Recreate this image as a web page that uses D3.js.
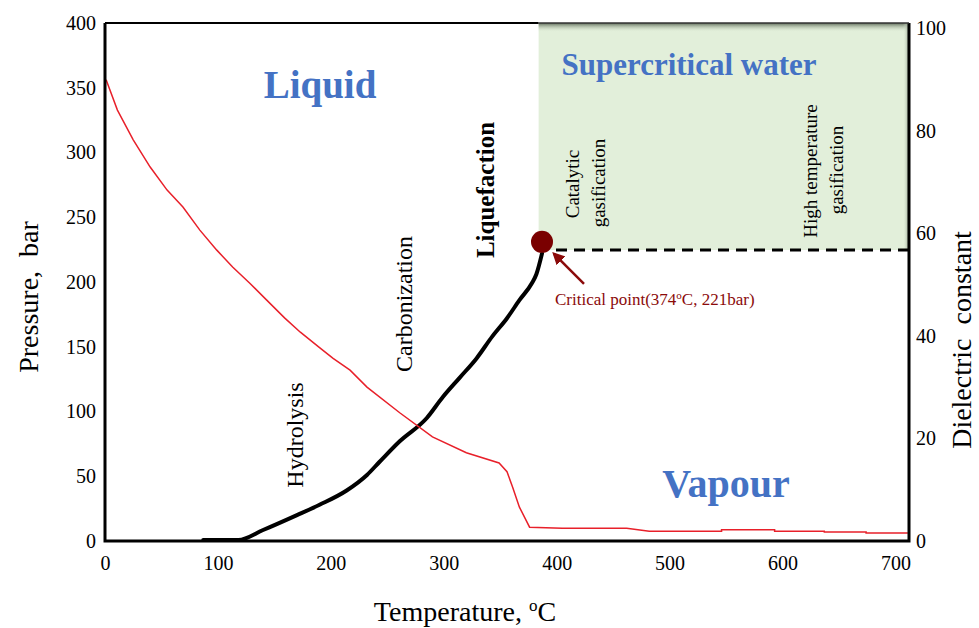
<!DOCTYPE html>
<html>
<head>
<meta charset="utf-8">
<script src="https://cdn.jsdelivr.net/npm/d3@7"></script>
<style>
  body { margin: 0; background: #fff; }
  text { font-family: "Liberation Serif", "Times New Roman", serif; }
</style>
</head>
<body>
<svg id="chart" width="979" height="628"></svg>
<script>
// data
var xTicks = [0, 100, 200, 300, 400, 500, 600, 700]
var yTicks = [0, 50, 100, 150, 200, 250, 300, 350, 400]
var y2Ticks = [0, 20, 40, 60, 80, 100]

// vapour pressure curve (temperature degC, pressure bar)
var vapT = [87, 118, 140, 170, 190, 214, 232, 243, 261, 285, 299, 314, 329, 343, 356, 367, 378, 382, 387]
var vapP = [0.8, 0.8, 8.5, 20, 28, 39, 51, 61, 77, 95, 111, 126, 141, 158, 172, 186, 199, 206, 222]

// dielectric constant of water (temperature degC, dielectric constant)
var dielT = [1, 11, 25, 40, 55, 69, 84, 99, 113, 128, 143, 159, 173, 190, 202, 217, 232, 261, 290, 320, 349, 356, 361, 367, 376, 405, 462, 482, 546, 546, 593, 593, 637, 637, 674, 674, 711]
var dielE = [89.9, 84, 78.2, 72.9, 68.4, 65.1, 60.6, 56.7, 53.4, 50.3, 47, 43.5, 40.7, 37.7, 35.6, 33.3, 30, 25, 20.3, 17.2, 15.2, 13.5, 10.5, 6.6, 2.7, 2.5, 2.5, 1.9, 1.9, 2.2, 2.2, 1.9, 1.9, 1.75, 1.75, 1.56, 1.56]

var criticalPoint = [387, 231]
var superT = 384, superP = 224.7

var svg = d3.select("#chart")
var plotLeft = 105, plotRight = 909, plotTop = 23, plotBottom = 541

var x = d3.scaleLinear().domain([0, 712]).range([plotLeft, plotRight])
var y = d3.scaleLinear().domain([0, 400]).range([plotBottom, plotTop])
var y2 = d3.scaleLinear().domain([0, 100]).range([plotBottom, 28])

var blue = "#4472C4", darkRed = "#8B0A0A"

// supercritical region
var defs = svg.append("defs")
var shade = defs.append("linearGradient").attr("id", "shadeTop")
    .attr("x1", "0%").attr("y1", "0%").attr("x2", "0%").attr("y2", "100%")
shade.append("stop").attr("offset", "0%").attr("stop-color", "#5d6a57").attr("stop-opacity", 1)
shade.append("stop").attr("offset", "100%").attr("stop-color", "#e2efda").attr("stop-opacity", 0)
var shadeR = defs.append("linearGradient").attr("id", "shadeRight")
    .attr("x1", "100%").attr("y1", "0%").attr("x2", "0%").attr("y2", "0%")
shadeR.append("stop").attr("offset", "0%").attr("stop-color", "#8a9684").attr("stop-opacity", 1)
shadeR.append("stop").attr("offset", "100%").attr("stop-color", "#e2efda").attr("stop-opacity", 0)

svg.append("rect")
    .attr("x", x(superT)).attr("y", plotTop)
    .attr("width", plotRight - x(superT)).attr("height", y(superP) - plotTop)
    .style("fill", "#e2efda")
svg.append("rect")
    .attr("x", x(superT)).attr("y", plotTop)
    .attr("width", plotRight - x(superT)).attr("height", 9)
    .style("fill", "url(#shadeTop)")
svg.append("rect")
    .attr("x", plotRight - 6).attr("y", plotTop)
    .attr("width", 6).attr("height", y(superP) - plotTop)
    .style("fill", "url(#shadeRight)")

// dashed critical pressure line
svg.append("line")
    .attr("x1", x(criticalPoint[0]) + 14).attr("x2", plotRight)
    .attr("y1", y(superP)).attr("y2", y(superP))
    .style("stroke", "black").style("stroke-width", 3)
    .style("stroke-dasharray", "11,7")

// curves
var vapLine = d3.line()
    .x(function(d, i) { return x(vapT[i]) })
    .y(function(d, i) { return y(vapP[i]) })
    .curve(d3.curveMonotoneX)

svg.append("path")
    .datum(vapT)
    .attr("d", vapLine)
    .style("fill", "none").style("stroke", "black").style("stroke-width", 4)
    .style("stroke-linecap", "round")

var dielLine = d3.line()
    .x(function(d, i) { return x(dielT[i]) })
    .y(function(d, i) { return y2(dielE[i]) })

svg.append("path")
    .datum(dielT)
    .attr("d", dielLine)
    .style("fill", "none").style("stroke", "#e8202a").style("stroke-width", 1.5)

// critical point marker + arrow
svg.append("circle")
    .attr("cx", x(criticalPoint[0])).attr("cy", y(criticalPoint[1]))
    .attr("r", 11)
    .style("fill", "#7a0000")

defs.append("marker").attr("id", "arrow")
    .attr("viewBox", "0 0 10 10").attr("refX", 8).attr("refY", 5)
    .attr("markerWidth", 5).attr("markerHeight", 5).attr("orient", "auto")
    .append("path").attr("d", "M0,0L10,5L0,10z").style("fill", darkRed)

svg.append("line")
    .attr("x1", x(criticalPoint[0]) + 42).attr("y1", y(criticalPoint[1]) + 42)
    .attr("x2", x(criticalPoint[0]) + 12).attr("y2", y(criticalPoint[1]) + 12)
    .style("stroke", darkRed).style("stroke-width", 2.5)
    .attr("marker-end", "url(#arrow)")

var crit = svg.append("text")
    .attr("x", x(criticalPoint[0]) + 13).attr("y", y(criticalPoint[1]) + 63)
    .style("font-size", "17px").style("fill", darkRed)
crit.append("tspan").text("Critical point(374")
crit.append("tspan").attr("dy", -6).style("font-size", "11px").text("o")
crit.append("tspan").attr("dy", 6).text("C, 221bar)")

// region labels
function label(txt, px, py, size, color, bold, rot) {
    var t = svg.append("text")
        .attr("transform", "translate(" + px + "," + py + ")" + (rot ? " rotate(-90)" : ""))
        .attr("text-anchor", "middle")
        .style("font-size", size + "px")
        .style("fill", color)
        .style("font-weight", bold ? "bold" : "normal")
        .text(txt)
    return t
}

label("Liquid", 320, 98, 39, blue, true, false)
label("Supercritical water", 689, 75, 31, blue, true, false)
label("Vapour", 726, 497, 40, blue, true, false)
label("Hydrolysis", 303, 435, 24, "black", false, true)
label("Carbonization", 412, 304, 24, "black", false, true)
label("Liquefaction", 494, 190, 25, "black", true, true)
label("Catalytic", 579, 184, 19, "black", false, true)
label("gasification", 605, 183, 19, "black", false, true)
label("High temperature", 817, 171, 19, "black", false, true)
label("gasification", 843, 170, 19, "black", false, true)

// axes
svg.append("g")
    .attr("transform", "translate(0," + plotBottom + ")")
    .call(d3.axisBottom(x).tickValues(xTicks).tickSize(0).tickPadding(15))
svg.append("g")
    .attr("transform", "translate(" + plotLeft + ",0)")
    .call(d3.axisLeft(y).tickValues(yTicks).tickSize(0).tickPadding(9))
svg.append("g")
    .attr("transform", "translate(" + plotRight + ",0)")
    .call(d3.axisRight(y2).tickValues(y2Ticks).tickSize(0).tickPadding(7))

svg.selectAll(".domain").remove()
svg.selectAll(".tick text")
    .style("font-family", "'Liberation Serif', 'Times New Roman', serif")
    .style("font-size", "20px")
    .style("fill", "black")

// frame
svg.append("path")
    .attr("d", "M" + plotLeft + "," + plotTop + "V" + plotBottom + "H" + plotRight + "V" + plotTop)
    .style("fill", "none").style("stroke", "black").style("stroke-width", 3)
svg.append("line")
    .attr("x1", plotLeft).attr("x2", x(superT)).attr("y1", plotTop).attr("y2", plotTop)
    .style("stroke", "black").style("stroke-width", 2)
svg.append("line")
    .attr("x1", x(superT)).attr("x2", plotRight).attr("y1", plotTop).attr("y2", plotTop)
    .style("stroke", "#333").style("stroke-width", 1.5)

// axis titles
var xt = svg.append("text")
    .attr("x", 465).attr("y", 621)
    .attr("text-anchor", "middle")
    .style("font-size", "28px")
xt.append("tspan").text("Temperature, ")
xt.append("tspan").attr("dy", -10).style("font-size", "17px").text("o")
xt.append("tspan").attr("dy", 10).text("C")

svg.append("text")
    .attr("transform", "translate(38,297) rotate(-90)")
    .attr("text-anchor", "middle")
    .style("font-size", "28px")
    .style("white-space", "pre")
    .text("Pressure,  bar")

svg.append("text")
    .attr("transform", "translate(971,340) rotate(-90)")
    .attr("text-anchor", "middle")
    .style("font-size", "28px")
    .style("white-space", "pre")
    .text("Dielectric  constant")
</script>
</body>
</html>
